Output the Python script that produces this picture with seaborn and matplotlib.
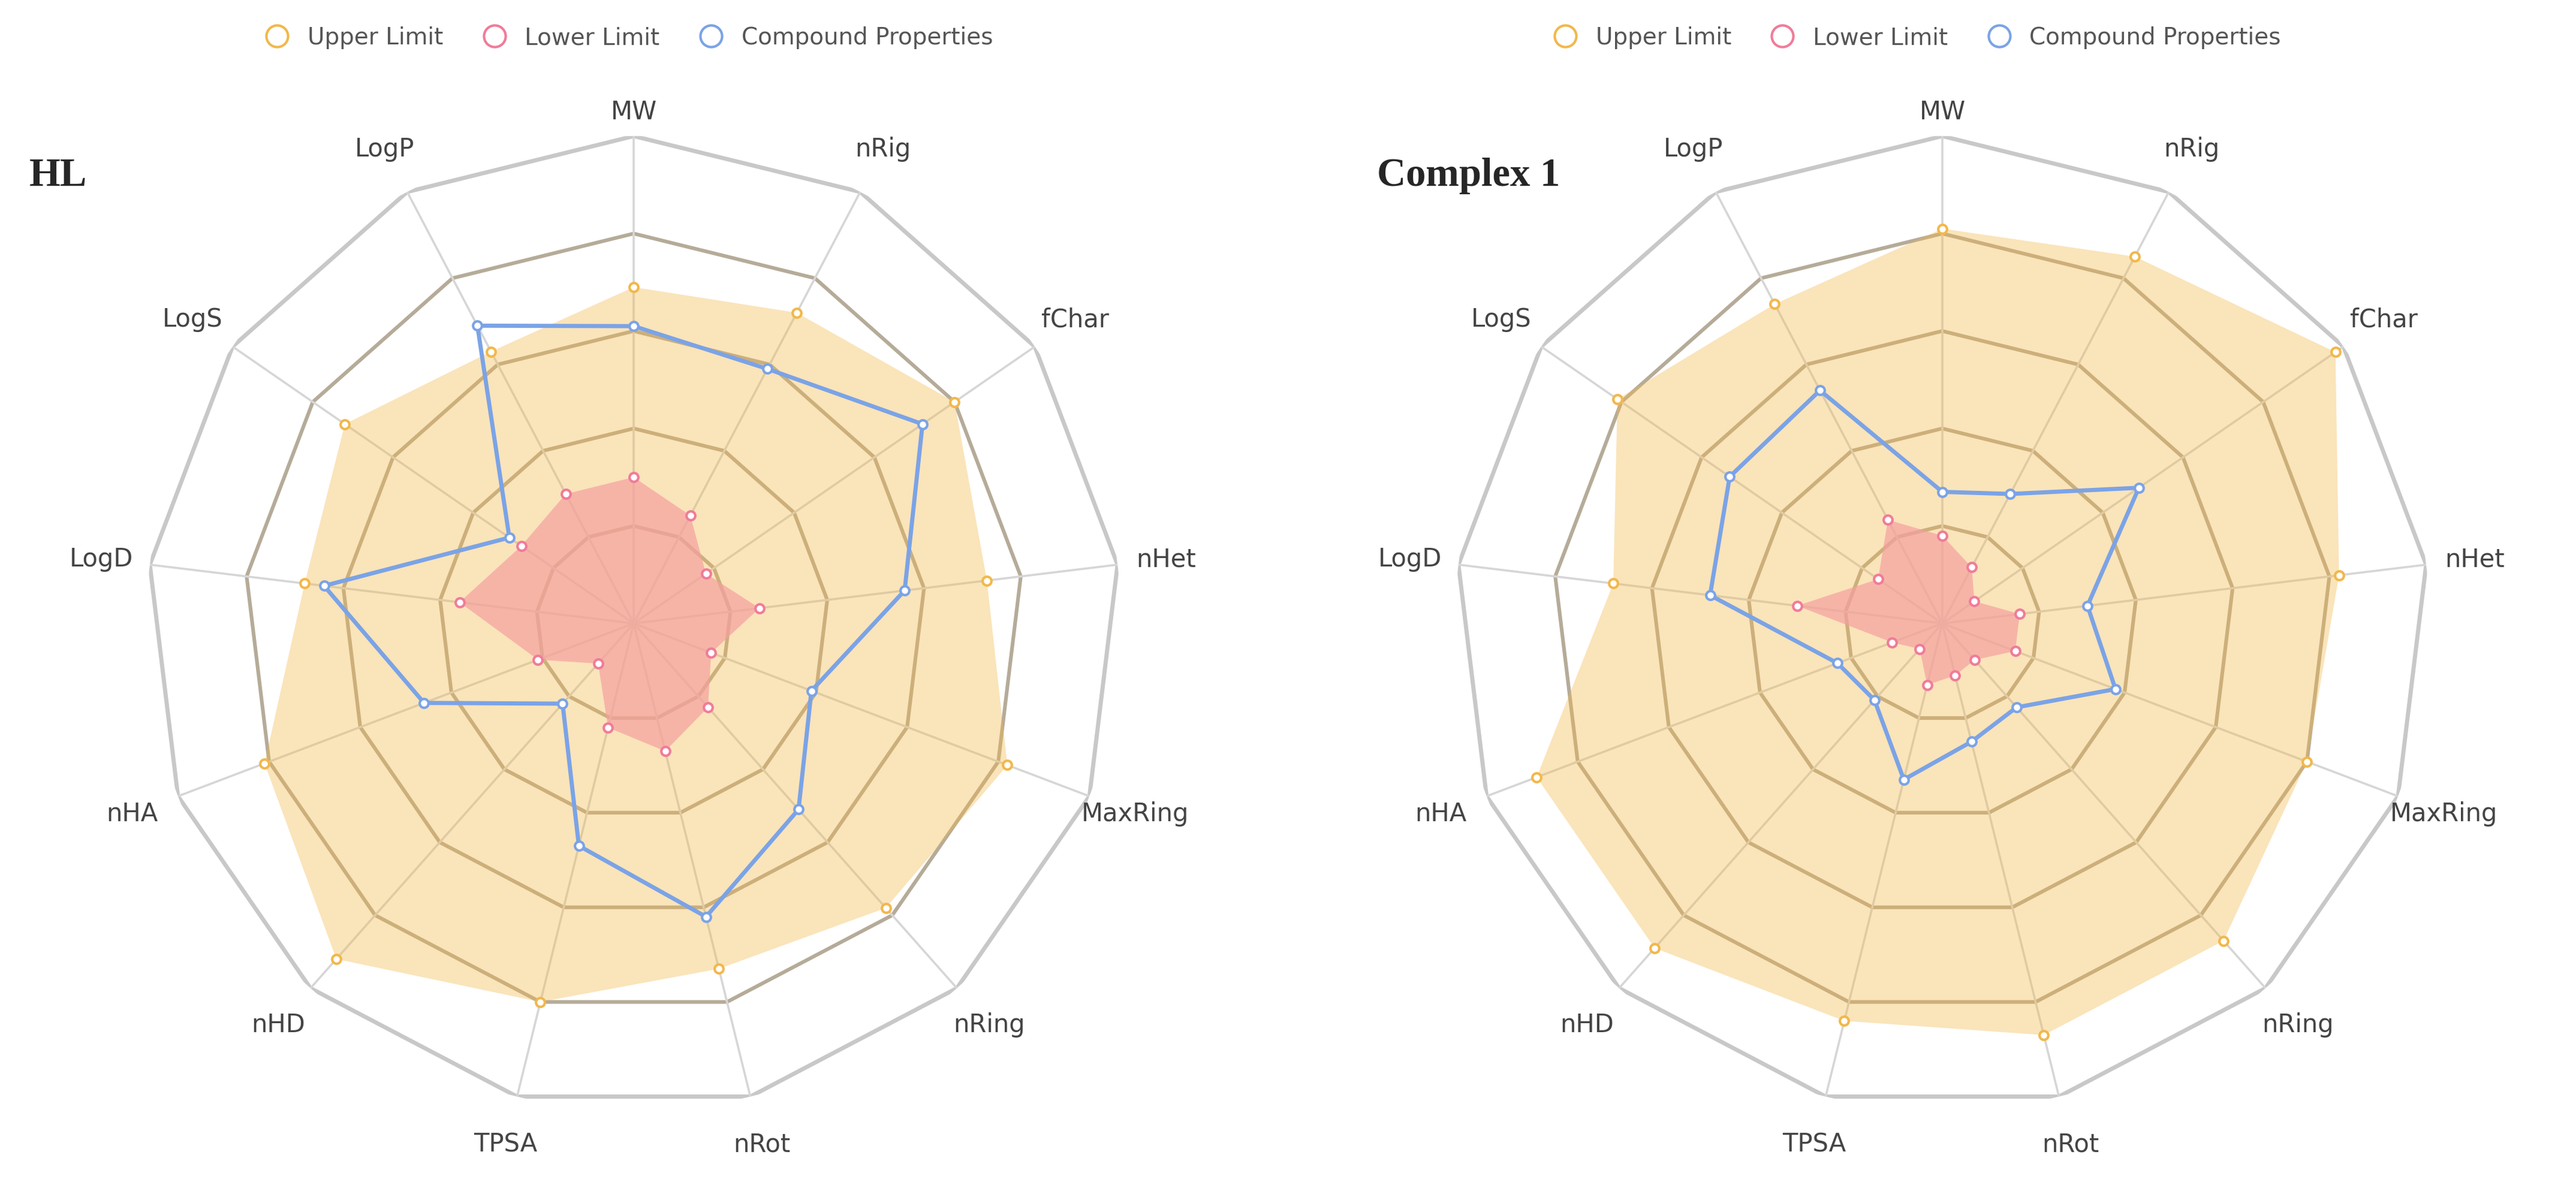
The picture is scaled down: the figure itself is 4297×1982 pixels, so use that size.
import numpy as np
import pandas as pd
import matplotlib
matplotlib.use("Agg")
import matplotlib.pyplot as plt
import seaborn as sns
from matplotlib.lines import Line2D

sns.set_theme(style="white")
plt.rcParams['font.family'] = ['DejaVu Sans']

categories = ["MW", "nRig", "fChar", "nHet", "MaxRing", "nRing", "nRot",
              "TPSA", "nHD", "nHA", "LogD", "LogS", "LogP"]

hl_upper = [0.69, 0.72, 0.80, 0.73, 0.82, 0.78, 0.73, 0.80, 0.92, 0.81, 0.68, 0.72, 0.63]
hl_lower = [0.30, 0.25, 0.18, 0.26, 0.17, 0.23, 0.27, 0.22, 0.11, 0.21, 0.36, 0.28, 0.30]
hl_compound = [0.61, 0.59, 0.72, 0.56, 0.39, 0.51, 0.62, 0.47, 0.22, 0.46, 0.64, 0.31, 0.69]

c1_upper = [0.81, 0.85, 0.98, 0.82, 0.80, 0.87, 0.87, 0.84, 0.89, 0.89, 0.68, 0.81, 0.74]
c1_lower = [0.18, 0.13, 0.08, 0.16, 0.16, 0.10, 0.11, 0.13, 0.07, 0.11, 0.30, 0.16, 0.24]
c1_compound = [0.27, 0.30, 0.49, 0.30, 0.38, 0.23, 0.25, 0.33, 0.21, 0.23, 0.48, 0.53, 0.54]

panels = [("HL", hl_upper, hl_lower, hl_compound),
          ("Complex 1", c1_upper, c1_lower, c1_compound)]

UP_C = "#f2b84b"
LO_C = "#f07c9a"
CO_C = "#7ba3e6"

fig = plt.figure(figsize=(21.485, 9.915), dpi=200)
n = len(categories)
theta = np.linspace(0, 2 * np.pi, n, endpoint=False)
theta_c = np.append(theta, theta[0])

rects = [[0.056, 0.065, 0.38, 0.82], [0.564, 0.065, 0.38, 0.82]]
for (title, up, lo, co), rect in zip(panels, rects):
    ax = fig.add_axes(rect, projection="polar")
    ax.set_theta_zero_location("N")
    ax.set_theta_direction(-1)
    ax.grid(False)
    ax.spines["polar"].set_visible(False)
    for r in [0.2, 0.4, 0.6, 0.8]:
        ax.plot(theta_c, [r] * (n + 1), color="#b5ab98", lw=2.2, zorder=1)
    ax.plot(theta_c, [1.0] * (n + 1), color="#c8c8c8", lw=2.5, zorder=1)
    for t in theta:
        ax.plot([t, t], [0, 1.0], color="#d6d6d6", lw=1.3, zorder=1)
    df = pd.DataFrame({"theta": theta, "upper": up, "lower": lo, "compound": co})
    ax.fill(theta_c, np.append(df.upper, df.upper[0]), color=UP_C, alpha=0.38, lw=0, zorder=2)
    ax.fill(theta_c, np.append(df.lower, df.lower[0]), color="#f5a0a0", alpha=0.7, lw=0, zorder=3)
    ax.plot(theta_c, np.append(df.compound, df.compound[0]), color=CO_C, lw=2.5, zorder=4)
    sns.scatterplot(data=df, x="theta", y="upper", ax=ax, marker="o", s=28,
                    facecolor="white", edgecolor=UP_C, linewidth=1.5, zorder=5)
    sns.scatterplot(data=df, x="theta", y="lower", ax=ax, marker="o", s=28,
                    facecolor="white", edgecolor=LO_C, linewidth=1.5, zorder=5)
    sns.scatterplot(data=df, x="theta", y="compound", ax=ax, marker="o", s=28,
                    facecolor="white", edgecolor=CO_C, linewidth=1.5, zorder=6)
    ax.set_xlabel(""); ax.set_ylabel("")
    for t, lab in zip(theta, categories):
        rr = 1.05 if lab == "MW" else 1.10
        ax.text(t, rr, lab, ha="center", va="center", fontsize=15, color="#444444")
    ax.set_xticks([]); ax.set_yticks([])
    ax.set_ylim(0, 1.0)
    ax.text(-0.12 if title == "HL" else -0.08, 0.96, title, transform=ax.transAxes,
            fontsize=24, fontweight="bold", family="Liberation Serif", ha="left", va="center")

handles = [Line2D([], [], marker="o", ls="", markersize=13, markerfacecolor="white",
                  markeredgecolor=c, markeredgewidth=1.5) for c in (UP_C, LO_C, CO_C)]
labels = ["Upper Limit", "Lower Limit", "Compound Properties"]
for x in (0.242, 0.742):
    fig.legend(handles, labels, loc="center", bbox_to_anchor=(x, 0.968), ncol=3,
               frameon=False, fontsize=14, labelcolor="#555555", handletextpad=0.3,
               columnspacing=1.2)

fig.savefig("out.png", dpi=200, facecolor="white")
